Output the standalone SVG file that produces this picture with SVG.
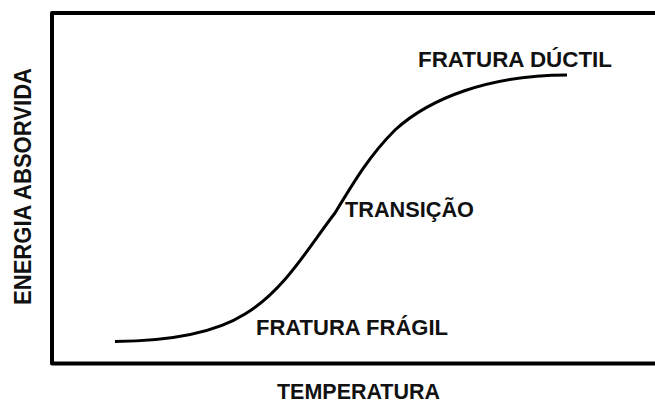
<svg xmlns="http://www.w3.org/2000/svg" width="655" height="403" viewBox="0 0 655 403">
<style>
.lbl{font-family:"Liberation Sans",Arial,sans-serif;font-weight:bold;font-size:22px;fill:#111}
.frame{fill:none;stroke:#000;stroke-width:4;stroke-linejoin:round}
.curve{fill:none;stroke:#000;stroke-width:3;stroke-linecap:butt}
</style>
<rect width="655" height="403" fill="#fff"/>
<g id="frame">
<path class="frame" d="M660,13 H52 V363.5 H660"/>
</g>
<g id="connectors">
<path class="curve" d="M115,341.5 C170,341 215,333 245,314 C285,290 310,245 335,213 C355,180 370,155 395,130 C430,98 490,75 567,75"/>
</g>
<g id="label-ductil"><text class="lbl" x="418" y="67" textLength="194" lengthAdjust="spacingAndGlyphs">FRATURA DÚCTIL</text></g>
<g id="label-transicao"><text class="lbl" x="345" y="217" textLength="129" lengthAdjust="spacingAndGlyphs">TRANSIÇÃO</text></g>
<g id="label-fragil"><text class="lbl" x="256" y="335" textLength="192" lengthAdjust="spacingAndGlyphs">FRATURA FRÁGIL</text></g>
<g id="axis-x"><text class="lbl" x="277" y="399" textLength="163" lengthAdjust="spacingAndGlyphs">TEMPERATURA</text></g>
<g id="axis-y"><text class="lbl" transform="translate(31,186.5) rotate(-90)" x="0" y="0" text-anchor="middle" style="font-size:24px" textLength="237" lengthAdjust="spacingAndGlyphs">ENERGIA  ABSORVIDA</text></g>
</svg>
